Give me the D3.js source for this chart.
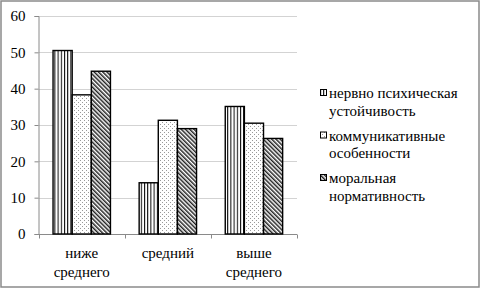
<!DOCTYPE html>
<html><head><meta charset="utf-8">
<script src="https://cdn.jsdelivr.net/npm/d3@7"></script>
</head><body style="margin:0">
<svg id="c" width="482" height="290"></svg>
<script>
const categories = [["ниже","среднего"],["средний"],["выше","среднего"]];
const seriesNames = [["нервно психическая","устойчивость"],["коммуникативные","особенности"],["моральная","нормативность"]];
const s1 = [50.5, 14.1, 35.1];
const s2 = [38.3, 31.3, 30.5];
const s3 = [44.8, 29.0, 26.3];
const yTicks = [0,10,20,30,40,50,60];

const svg = d3.select("#c");
const defs = svg.append("defs");
const p1 = defs.append("pattern").attr("id","p0").attr("patternUnits","userSpaceOnUse").attr("width",3.2).attr("height",4);
p1.append("rect").attr("width",3.2).attr("height",4).attr("fill","#fff");
p1.append("rect").attr("x",0).attr("width",1).attr("height",4).attr("fill","#000");
const p2 = defs.append("pattern").attr("id","p1").attr("patternUnits","userSpaceOnUse").attr("width",4).attr("height",4);
p2.append("rect").attr("width",4).attr("height",4).attr("fill","#fff");
p2.append("rect").attr("x",0).attr("y",0).attr("width",1).attr("height",1).attr("fill","#999");
p2.append("rect").attr("x",2).attr("y",2).attr("width",1).attr("height",1).attr("fill","#999");
const p3 = defs.append("pattern").attr("id","p2").attr("patternUnits","userSpaceOnUse").attr("width",3).attr("height",3).attr("patternTransform","rotate(-45)");
p3.append("rect").attr("width",3).attr("height",3).attr("fill","#fff");
p3.append("rect").attr("width",1.5).attr("height",3).attr("fill","#222");

svg.append("rect").attr("x",1).attr("y",1).attr("width",478).attr("height",286)
  .attr("fill","none").attr("stroke","#8a8a8a").attr("stroke-width",1.5);

const y = d3.scaleLinear().domain([0,60]).range([234,16]);
const catKeys = categories.map(c=>c.join(" "));
const x0 = d3.scaleBand().domain(catKeys).range([38.7,297]).padding(0);
const x1 = d3.scaleBand().domain([0,1,2]).range([0,x0.bandwidth()]).paddingInner(0).paddingOuter(0.75);

svg.append("g").selectAll("line").data(yTicks.filter(d=>d>0)).join("line")
  .attr("x1",38.7).attr("x2",297).attr("y1",d=>Math.round(y(d))+0.5).attr("y2",d=>Math.round(y(d))+0.5)
  .attr("stroke","#d3d3d3").attr("stroke-width",1.2);

const ya = svg.append("g").attr("transform","translate(38.5,0)")
  .call(d3.axisLeft(y).tickValues(yTicks).tickSize(4).tickPadding(9).tickFormat(d3.format("d")));
ya.attr("font-family","Liberation Serif").attr("font-size",15);
ya.select(".domain").attr("stroke","#8a8a8a");
ya.selectAll(".tick line").attr("stroke","#8a8a8a");
ya.selectAll("text").style("font-family","Liberation Serif").style("font-size","15px").attr("fill","#000").attr("dy","0.33em");

const xa = svg.append("g").attr("transform","translate(0,234.5)");
xa.append("line").attr("x1",38.7).attr("x2",297).attr("stroke","#8a8a8a");
const bounds = catKeys.map(k=>x0(k)).concat([x0(catKeys[2])+x0.bandwidth()]);
xa.selectAll("line.t").data(bounds).join("line").attr("class","t")
  .attr("x1",d=>Math.round(d)+0.5).attr("x2",d=>Math.round(d)+0.5).attr("y1",0).attr("y2",4).attr("stroke","#8a8a8a");

categories.forEach((lines,i)=>{
  lines.forEach((ln,j)=>{
    svg.append("text").attr("x",x0(catKeys[i])+x0.bandwidth()/2).attr("y",258+j*19)
      .attr("text-anchor","middle").style("font-family","Liberation Serif").style("font-size","15px")
      .text(ln);
  });
});

const series = [s1,s2,s3];
series.forEach((vals,si)=>{
  svg.append("g").selectAll("rect").data(vals).join("rect")
    .attr("x",(d,i)=>x0(catKeys[i])+x1(si))
    .attr("y",d=>y(d))
    .attr("width",x1.bandwidth())
    .attr("height",d=>y(0)-y(d))
    .attr("fill",`url(#p${si})`)
    .attr("stroke","#000").attr("stroke-width",1.4);
});

const blockY = [98,140.5,183];
seriesNames.forEach((nm,si)=>{
  svg.append("rect").attr("x",320.5).attr("y",blockY[si]-8.5).attr("width",6).attr("height",6)
    .attr("fill",`url(#p${si})`).attr("stroke","#000").attr("stroke-width",1);
  nm.forEach((ln,j)=>{
    svg.append("text").attr("x",329).attr("y",blockY[si]+j*17.5)
      .style("font-family","Liberation Serif").style("font-size","15px").text(ln);
  });
});
</script>
</body></html>
